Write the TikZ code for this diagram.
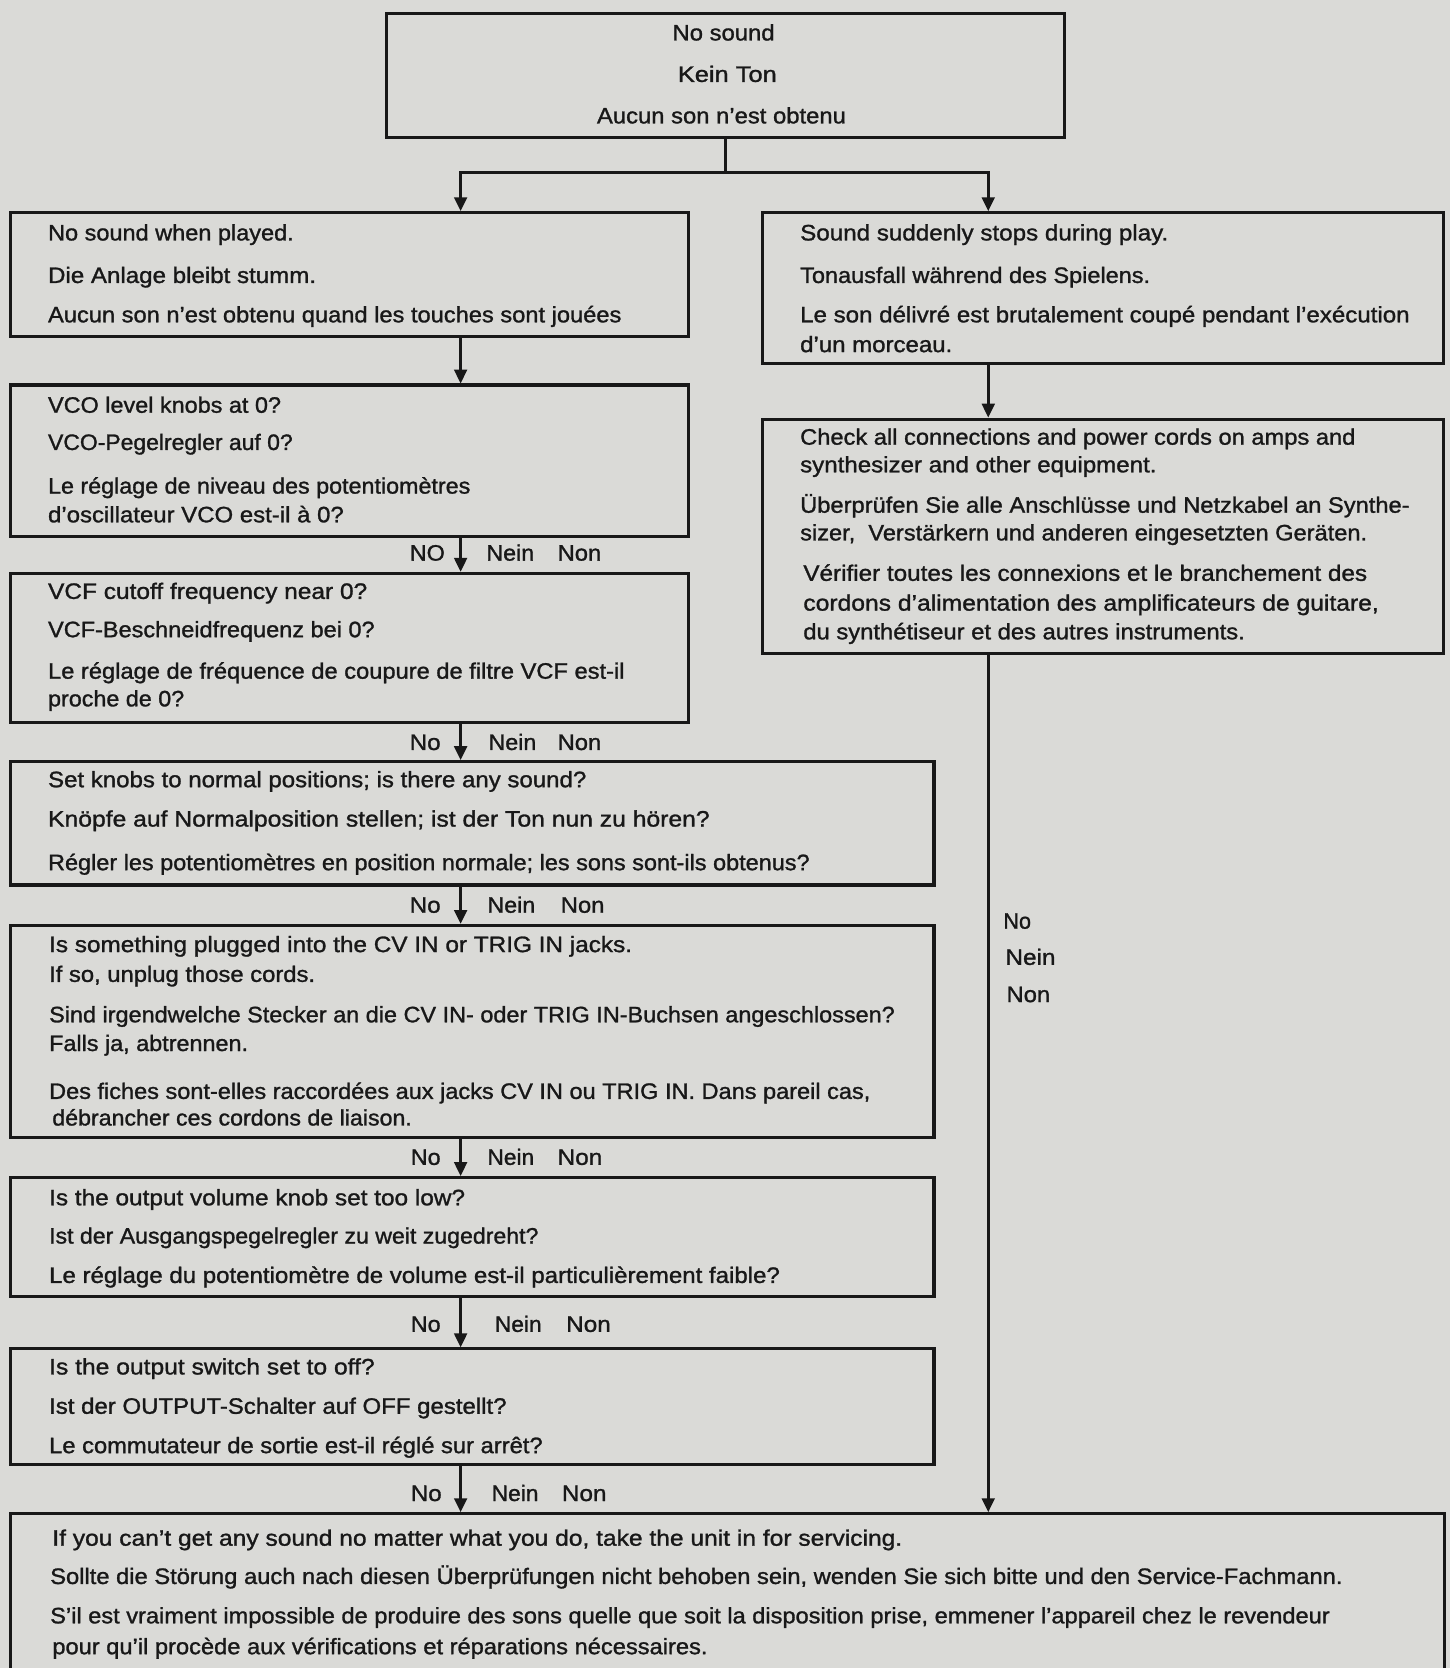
\documentclass[tikz,border=0pt]{standalone}
\usepackage{fontspec}
\setmainfont{Liberation Sans}[FakeBold=1.2]
\usepackage{graphicx}
\usetikzlibrary{arrows.meta}
\definecolor{paper}{RGB}{218,218,215}
\definecolor{ink}{RGB}{24,24,24}
\newsavebox\fitbox
\newcommand\fitto[2]{\sbox\fitbox{#2}\pgfmathsetmacro\fitw{\the\wd\fitbox}\pgfmathsetmacro\fitratio{(#1)/\fitw}\scalebox{\fitratio}[1]{\usebox\fitbox}}
\newcommand\tline[5]{\node[txt] (#1) at (#2,#3+7) {\fitto{#4-#2}{#5}};}
\tikzset{
  box/.style={draw=ink, line width=3pt, rectangle, inner sep=0pt},
  conn/.style={draw=ink, line width=2.4pt, line join=miter},
  arr/.style={conn, -{Triangle[width=12pt,length=13pt]}},
  txt/.style={anchor=base west, inner sep=0pt, text=ink, font=\fontsize{21}{24}\selectfont}
}
\begin{document}
\begin{tikzpicture}[x=1pt,y=-1pt]
\useasboundingbox (0,0) rectangle (1363,1568);
\fill[paper] (0,0) rectangle (1363,1568);
\clip (0,0) rectangle (1363,1568);

% ---------- boxes ----------
\node[box, minimum width=638pt, minimum height=116pt] (top) at (682,71) {};
\node[box, minimum width=637pt, minimum height=116pt] (b1) at (328.5,258) {};
\node[box, minimum width=637pt, minimum height=142pt] (b2) at (328.5,433) {};
\node[box, minimum width=637pt, minimum height=140pt] (b3) at (328.5,609) {};
\node[box, minimum width=868pt, minimum height=116pt] (b4) at (444,774) {};
\node[box, minimum width=868pt, minimum height=199pt] (b5) at (444,969.5) {};
\node[box, minimum width=868pt, minimum height=112pt] (b6) at (444,1163) {};
\node[box, minimum width=868pt, minimum height=109pt] (b7) at (444,1322.5) {};
\node[box, minimum width=1348pt, minimum height=177pt] (bot) at (684,1511.5) {};
\node[box, minimum width=640pt, minimum height=142pt] (r1) at (1037,271) {};
\node[box, minimum width=640pt, minimum height=220pt] (r2) at (1037,504) {};

% ---------- connectors ----------
\coordinate (spl) at (433,162);
\coordinate (spr) at (929,162);
\draw[conn] (top.south) -- (top.south |- spl);
\draw[arr] (top.south |- spl) -- (spl) -- (spl |- b1.north);
\draw[arr] (top.south |- spr) -- (spr) -- (spr |- r1.north);
\draw[arr] (b1.south -| spl) -- (b2.north -| spl);
\draw[arr] (b2.south -| spl) -- (b3.north -| spl);
\draw[arr] (b3.south -| spl) -- (b4.north -| spl);
\draw[arr] (b4.south -| spl) -- (b5.north -| spl);
\draw[arr] (b5.south -| spl) -- (b6.north -| spl);
\draw[arr] (b6.south -| spl) -- (b7.north -| spl);
\draw[arr] (b7.south -| spl) -- (bot.north -| spl);
\draw[arr] (r1.south -| spr) -- (r2.north -| spr);
\draw[arr] (r2.south -| spr) -- (bot.north -| spr);

% ---------- top box ----------
\tline{t0a}{632}{31}{728}{No sound}
\tline{t0b}{637}{70}{730}{Kein Ton}
\tline{t0c}{561}{109}{795}{Aucun son n’est obtenu}

% ---------- b1 ----------
\tline{t1a}{45}{219}{276}{No sound when played.}
\tline{t1b}{45}{259}{297}{Die Anlage bleibt stumm.}
\tline{t1c}{45}{296}{584}{Aucun son n’est obtenu quand les touches sont jouées}

% ---------- b2 ----------
\tline{t2a}{45}{381}{264}{VCO level knobs at 0?}
\tline{t2b}{45}{416}{275}{VCO-Pegelregler auf 0?}
\tline{t2c}{45}{457}{442}{Le réglage de niveau des potentiomètres}
\tline{t2d}{45}{484}{323}{d’oscillateur VCO est-il à 0?}

% ---------- b3 ----------
\tline{t3a}{45}{556}{345}{VCF cutoff frequency near 0?}
\tline{t3b}{45}{592}{352}{VCF-Beschneidfrequenz bei 0?}
\tline{t3c}{45}{631}{587}{Le réglage de fréquence de coupure de filtre VCF est-il}
\tline{t3d}{45}{657}{173}{proche de 0?}

% ---------- b4 ----------
\tline{t4a}{45}{733}{551}{Set knobs to normal positions; is there any sound?}
\tline{t4b}{45}{770}{667}{Knöpfe auf Normalposition stellen; ist der Ton nun zu hören?}
\tline{t4c}{45}{811}{761}{Régler les potentiomètres en position normale; les sons sont-ils obtenus?}

% ---------- b5 ----------
\tline{t5a}{46}{888}{594}{Is something plugged into the CV IN or TRIG IN jacks.}
\tline{t5b}{46}{916}{296}{If so, unplug those cords.}
\tline{t5c}{46}{954}{841}{Sind irgendwelche Stecker an die CV IN- oder TRIG IN-Buchsen angeschlossen?}
\tline{t5d}{46}{981}{233}{Falls ja, abtrennen.}
\tline{t5e}{46}{1026}{818}{Des fiches sont-elles raccordées aux jacks CV IN ou TRIG IN. Dans pareil cas,}
\tline{t5f}{49}{1051}{387}{débrancher ces cordons de liaison.}

% ---------- b6 ----------
\tline{t6a}{46}{1126}{437}{Is the output volume knob set too low?}
\tline{t6b}{46}{1162}{506}{Ist der Ausgangspegelregler zu weit zugedreht?}
\tline{t6c}{46}{1199}{733}{Le réglage du potentiomètre de volume est-il particulièrement faible?}

% ---------- b7 ----------
\tline{t7a}{46}{1285}{352}{Is the output switch set to off?}
\tline{t7b}{46}{1322}{476}{Ist der OUTPUT-Schalter auf OFF gestellt?}
\tline{t7c}{46}{1359}{510}{Le commutateur de sortie est-il réglé sur arrêt?}

% ---------- bottom ----------
\tline{t8a}{49}{1446}{848}{If you can’t get any sound no matter what you do, take the unit in for servicing.}
\tline{t8b}{47}{1482}{1262}{Sollte die Störung auch nach diesen Überprüfungen nicht behoben sein, wenden Sie sich bitte und den Service-Fachmann.}
\tline{t8c}{47}{1519}{1250}{S’il est vraiment impossible de produire des sons quelle que soit la disposition prise, emmener l’appareil chez le revendeur}
\tline{t8d}{49}{1548}{665}{pour qu’il procède aux vérifications et réparations nécessaires.}

% ---------- r1 ----------
\tline{r1a}{752}{219}{1098}{Sound suddenly stops during play.}
\tline{r1b}{752}{259}{1081}{Tonausfall während des Spielens.}
\tline{r1c}{752}{296}{1325}{Le son délivré est brutalement coupé pendant l’exécution}
\tline{r1d}{752}{324}{895}{d’un morceau.}

% ---------- r2 ----------
\tline{r2a}{752}{411}{1274}{Check all connections and power cords on amps and}
\tline{r2b}{752}{437}{1087}{synthesizer and other equipment.}
\tline{r2c}{752}{475}{1325}{Überprüfen Sie alle Anschlüsse und Netzkabel an Synthe-}
\tline{r2d}{752}{501}{1285}{sizer,~ Verstärkern und anderen eingesetzten Geräten.}
\tline{r2e}{755}{539}{1285}{Vérifier toutes les connexions et le branchement des}
\tline{r2f}{755}{567}{1296}{cordons d’alimentation des amplificateurs de guitare,}
\tline{r2g}{755}{594}{1170}{du synthétiseur et des autres instruments.}

% ---------- labels ----------
\tline{l1a}{385}{520}{418}{NO}
\tline{l1b}{457}{520}{502}{Nein}
\tline{l1c}{524}{520}{565}{Non}
\tline{l2a}{385}{698}{414}{No}
\tline{l2b}{459}{698}{504}{Nein}
\tline{l2c}{524}{698}{565}{Non}
\tline{l3a}{385}{851}{414}{No}
\tline{l3b}{458}{851}{503}{Nein}
\tline{l3c}{527}{851}{568}{Non}
\tline{l4a}{386}{1088}{414}{No}
\tline{l4b}{458}{1088}{502}{Nein}
\tline{l4c}{524}{1088}{566}{Non}
\tline{l5a}{386}{1245}{414}{No}
\tline{l5b}{465}{1245}{509}{Nein}
\tline{l5c}{532}{1245}{574}{Non}
\tline{l6a}{386}{1404}{415}{No}
\tline{l6b}{462}{1404}{506}{Nein}
\tline{l6c}{528}{1404}{570}{Non}
\tline{rla}{943}{866}{969}{No}
\tline{rlb}{945}{900}{992}{Nein}
\tline{rlc}{946}{935}{987}{Non}
\end{tikzpicture}
\end{document}
